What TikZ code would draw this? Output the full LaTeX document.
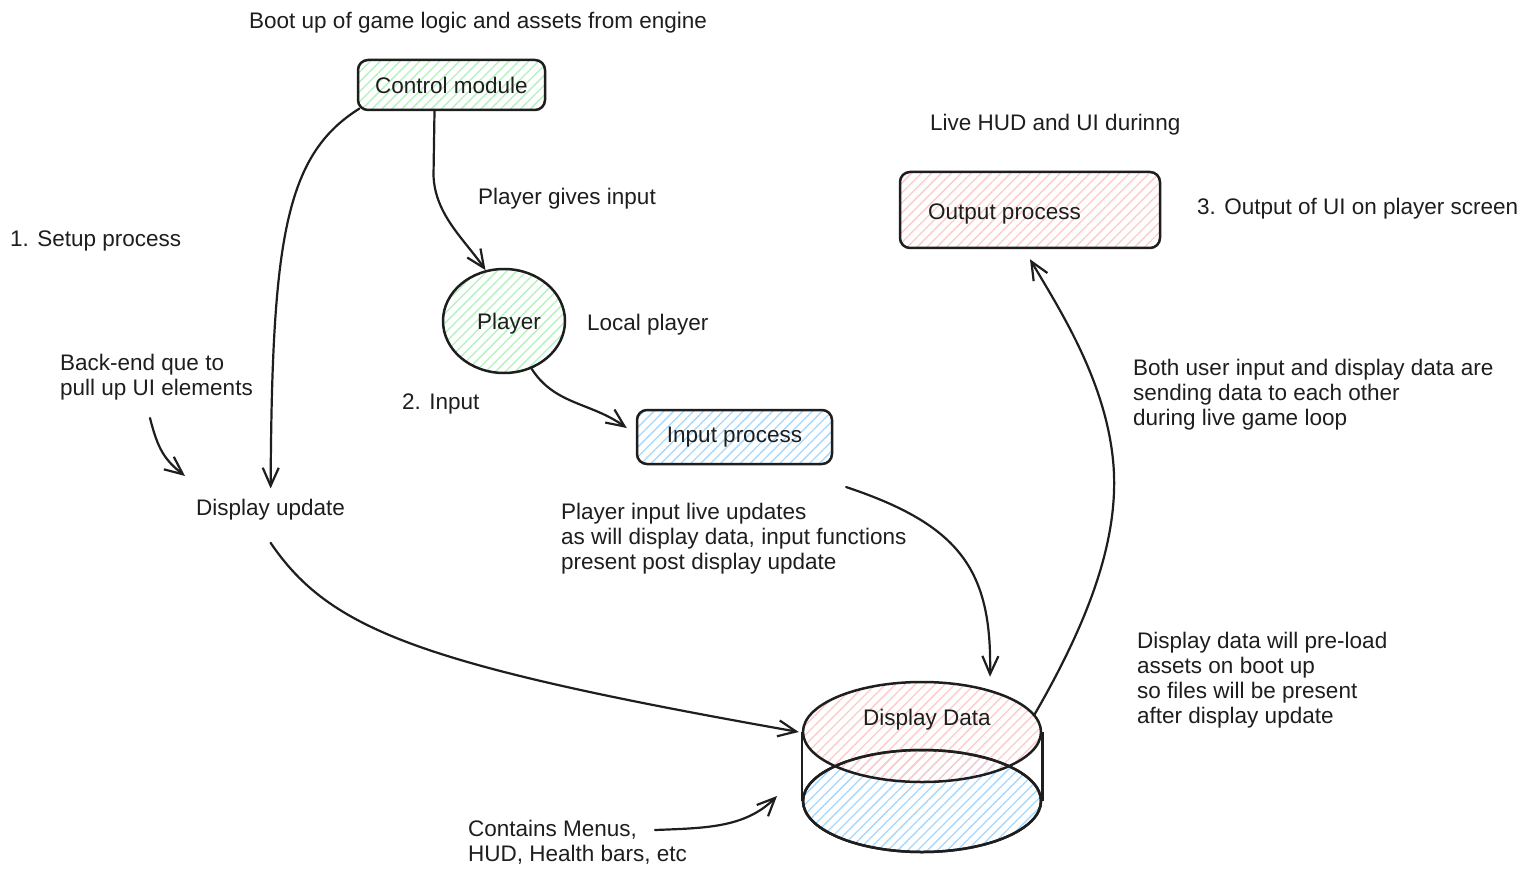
\documentclass[tikz,border=0pt]{standalone}
\usepackage{fontspec}
\setmainfont{Liberation Sans}
\usetikzlibrary{arrows.meta,patterns.meta,shapes.geometric,calc}
\definecolor{ink}{HTML}{1E1E1E}
\definecolor{hgreen}{HTML}{B2F2BB}
\definecolor{hred}{HTML}{FFC9C9}
\definecolor{hblue}{HTML}{A5D8FF}
\begin{document}
\begin{tikzpicture}[x=1pt,y=-1pt,
  every node/.style={font=\fontsize{22.5}{25}\selectfont, text=ink, inner sep=0pt},
  note/.style={anchor=base west, align=left},
  hatch/.style={pattern={Lines[angle=45,distance=7pt,line width=1.3pt]}, pattern color=#1},
  procbox/.style={draw=ink, line width=2.5pt, rounded corners=10pt},
  arr/.style={draw=ink, line width=2.2pt, line cap=round, line join=round,
    -{Straight Barb[length=18pt,width=16pt]}}
]
\fill[white] (0,0) rectangle (1530,877);
\useasboundingbox (0,0) rectangle (1530,877);

% processing blocks
\node[procbox, hatch=hgreen, minimum width=187pt, minimum height=50pt] (ctrl) at (451.5,85) {Control module};
\node[ellipse, draw=ink, line width=2.5pt, hatch=hgreen, minimum width=122pt, minimum height=104pt] (player) at (504,321) {};
\node (playerlbl) at (509,324) {Player};
\node[procbox, hatch=hblue, minimum width=195pt, minimum height=54pt] (inp) at (734.5,437) {Input process};
\node[procbox, hatch=hred, minimum width=260pt, minimum height=76pt] (out) at (1030,210) {};
\node[note] (outlbl) at (928,220) {Output process};

% data store drawn as a cylinder
\node[ellipse, draw=ink, line width=2.5pt, hatch=hblue, minimum width=238pt, minimum height=102pt] (ddbase) at (922,801) {};
\node[ellipse, draw=ink, line width=2.5pt, hatch=hred, minimum width=238pt, minimum height=100pt] (dd) at (922,732) {};
\draw[ink, line width=2.5pt] (ddbase.center) ellipse [x radius=119, y radius=51];
\draw[ink, line width=2.5pt] (dd.west) -- (ddbase.west);
\draw[ink, line width=2.5pt] (dd.east) -- (ddbase.east);
\node[note] (ddlbl) at (863,725) {Display Data};

% annotations (base anchor sits on the last line)
\node[note] (boot) at (249,29) {Boot up of game logic and assets from engine};
\node[note] (live) at (930,131) {Live HUD and UI durinng};
\node[note] (outcap) at (1197,215) {3. Output of UI on player screen};
\node[note] (gives) at (478,205) {Player gives input};
\node[note] (setup) at (10,247) {1. Setup process};
\node[note] (local) at (587,330) {Local player};
\node[note] (backend) at (60,395) {Back-end que to\\pull up UI elements};
\node[note] (inlbl) at (402,409) {2. Input};
\node[note] (both) at (1133,425) {Both user input and display data are\\sending data to each other\\during live game loop};
\node[note] (dup) at (196,515) {Display update};
\node[note] (pilu) at (561,569) {Player input live updates\\as will display data, input functions\\present post display update};
\node[note] (preload) at (1137,723) {Display data will pre-load\\assets on boot up\\so files will be present\\after display update};
\node[note] (menus) at (468,861) {Contains Menus,\\HUD, Health bars, etc};

% free ends of connectors
\coordinate (bkfrom) at (150,418);
\coordinate (bkto) at (185,476);
\coordinate (ipfrom) at (846,487);
\coordinate (cmfrom) at (655,830);
\coordinate (cmto) at (777,796);

% connectors
\draw[arr] ([shift={(2pt,2pt)}]ctrl.south west) .. controls (285,155) and (272,240) .. ([yshift=10pt]dup.north);
\draw[arr] ([xshift=-17pt]ctrl.south) -- ++(-1,65) .. controls (435,215) and (465,240) .. (player.110);
\draw[arr] (player.-60) .. controls (555,405) and (590,402) .. ([shift={(-9pt,9pt)}]inp.west);
\draw[arr] (bkfrom) .. controls (158,450) and (165,460) .. (bkto);
\draw[arr] ([yshift=-23pt]dup.south) .. controls (330,630) and (420,665) .. ([xshift=-3pt]dd.west);
\draw[arr] (ipfrom) .. controls (960,525) and (992,570) .. ([shift={(68pt,4pt)}]dd.north);
\draw[arr] (dd.9) .. controls (1095,610) and (1120,530) .. (1113,460) .. controls (1105,380) and (1060,310) .. ([yshift=-10pt]out.south);
\draw[arr] (cmfrom) .. controls (705,828) and (745,828) .. (cmto);
\end{tikzpicture}
\end{document}
